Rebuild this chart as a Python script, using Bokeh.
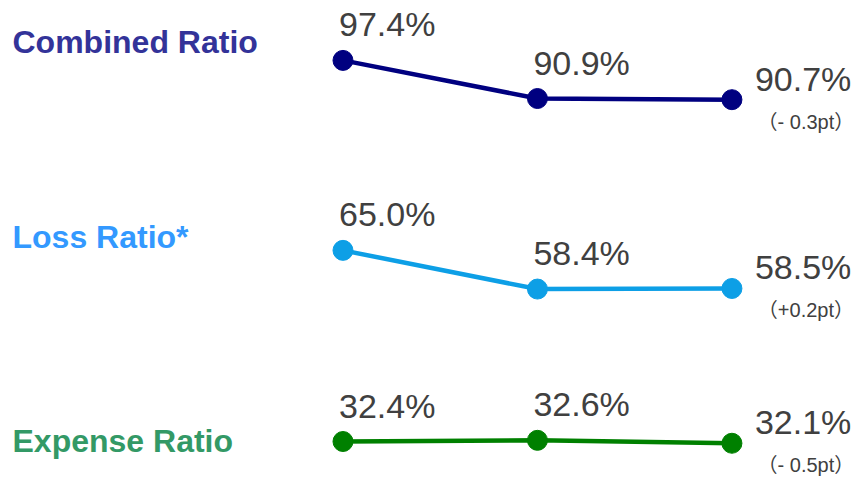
from bokeh.plotting import figure
from bokeh.models import ColumnDataSource, LabelSet, Range1d
from bokeh.core.properties import value
from bokeh.embed import file_html
from bokeh.resources import INLINE

# ---- data ----
series_names = ["Combined Ratio", "Loss Ratio*", "Expense Ratio"]
periods = [0, 1, 2]
combined = [97.4, 90.9, 90.7]
loss = [65.0, 58.4, 58.5]
expense = [32.4, 32.6, 32.1]
changes = ["（- 0.3pt）", "（+0.2pt）", "（- 0.5pt）"]

line_colors = ["#000080", "#0D9FE6", "#008000"]
name_colors = ["#333399", "#3399FF", "#339966"]
name_screen_y = [425, 230, 26]

NUM_FONT = value("Liberation Sans")
SUB_FONT = value("Liberation Sans, Noto Sans CJK JP")

p = figure(width=859, height=477, output_backend="svg", toolbar_location=None,
           x_range=Range1d(-1.761, 2.656), y_range=Range1d(26.26, 107.615),
           x_axis_location=None, y_axis_location=None,
           min_border=0, min_border_left=0, min_border_right=0,
           min_border_top=0, min_border_bottom=0)
p.grid.visible = False
p.outline_line_color = None
p.background_fill_color = "white"

all_series = [combined, loss, expense]
for vals, lc in zip(all_series, line_colors):
    src = ColumnDataSource(dict(x=periods, y=vals))
    p.line("x", "y", source=src, line_color=lc, line_width=4.5)
    p.scatter("x", "y", source=src, size=20, fill_color=lc, line_color=lc)

# value labels above the first two points
ax, ay, at = [], [], []
for vals in all_series:
    for i in periods[:2]:
        ax.append(periods[i]); ay.append(vals[i]); at.append("%.1f%%" % vals[i])
p.add_layout(LabelSet(x="x", y="y", text="t",
                      source=ColumnDataSource(dict(x=ax, y=ay, t=at)),
                      x_offset=-4, y_offset=24,
                      text_font=NUM_FONT, text_font_size="34px",
                      text_color="#404040", text_align="left",
                      text_baseline="alphabetic"))

# last values to the right of the last point
lx = [periods[2]] * 3
ly = [vals[2] for vals in all_series]
lt = ["%.1f%%" % v for v in ly]
p.add_layout(LabelSet(x="x", y="y", text="t",
                      source=ColumnDataSource(dict(x=lx, y=ly, t=lt)),
                      x_offset=23, y_offset=9,
                      text_font=NUM_FONT, text_font_size="34px",
                      text_color="#404040", text_align="left",
                      text_baseline="alphabetic"))
# changes below
p.add_layout(LabelSet(x="x", y="y", text="t",
                      source=ColumnDataSource(dict(x=lx, y=ly, t=changes)),
                      x_offset=74, y_offset=-29,
                      text_font=SUB_FONT, text_font_size="20px",
                      text_color="#404040", text_align="center",
                      text_baseline="alphabetic"))

# series names
p.add_layout(LabelSet(x="x", y="y", text="t", x_units="screen", y_units="screen",
                      source=ColumnDataSource(dict(x=[12] * 3, y=name_screen_y,
                                                   t=series_names, c=name_colors)),
                      text_font=NUM_FONT, text_font_size="32px",
                      text_font_style="bold", text_color="c",
                      text_align="left", text_baseline="alphabetic"))

open("out.html", "w").write(file_html(p, INLINE))
